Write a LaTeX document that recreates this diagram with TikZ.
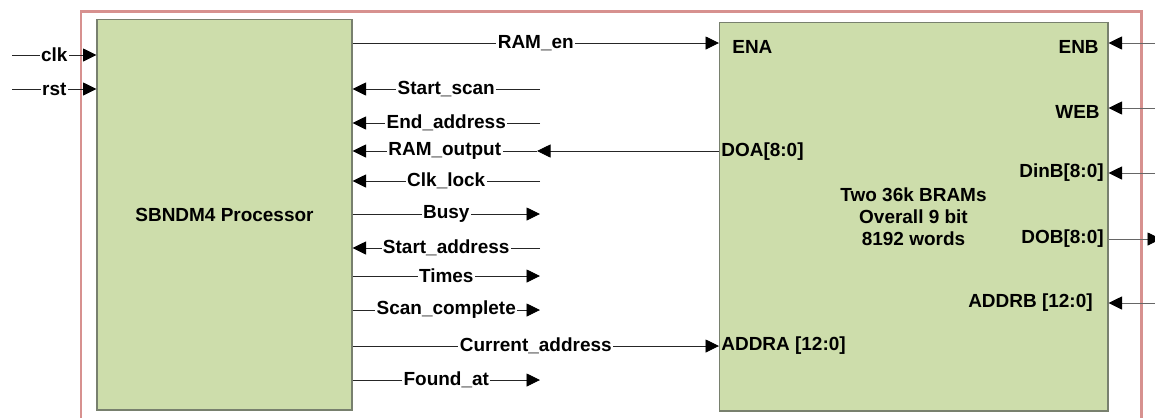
\documentclass[tikz,border=0pt]{standalone}
\usepackage{fontspec}
\setmainfont{Liberation Sans}
\usetikzlibrary{arrows.meta,positioning}
\definecolor{blockgreen}{RGB}{205,221,171}
\definecolor{blockedge}{RGB}{120,128,110}
\definecolor{framepink}{RGB}{215,145,143}
\tikzset{
 blk/.style={draw=blockedge,fill=blockgreen,line width=0.6pt,inner sep=0pt},
 sig/.style={draw=black!85,line width=0.5pt,-{Triangle[length=0.27cm,width=0.26cm,color=black]}},
 sig label/.style={fill=white,inner sep=0.8pt},
 port label/.style={inner sep=0pt}
}

\begin{document}
\begin{tikzpicture}[x=0.02cm,y=-0.02cm,font=\fontsize{10.8}{12.5}\selectfont\bfseries]
 \useasboundingbox (0,0) rectangle (1155,417);
 \clip (0,0) rectangle (1155,417);
 \draw[framepink,line width=1.7pt] (81,11) rectangle (1141,440);

 % the two blocks
 \node[blk,minimum width=5.1cm,minimum height=7.82cm] (proc) at (224.5,214.5) {SBNDM4 Processor};
 \node[blk,minimum width=7.78cm,minimum height=7.78cm,align=center] (bram) at (913.5,216.5)
   {Two 36k BRAMs\\Overall 9 bit\\8192 words};

 % ports of the BRAM
 \node[port label,anchor=west] (enalbl) at (732,47) {ENA};
 \node[port label,anchor=west] (doalbl) at (721,152) {DOA[8:0]};
 \node[port label,anchor=west] (addralbl) at (721,346) {ADDRA [12:0]};
 \node[port label,anchor=east] (enblbl) at (1099,47) {ENB};
 \node[port label,anchor=east] (weblbl) at (1100,112) {WEB};
 \node[port label,anchor=east] (dinblbl) at (1104,173) {DinB[8:0]};
 \node[port label,anchor=east] (doblbl) at (1104,239) {DOB[8:0]};
 \node[port label,anchor=east] (addrblbl) at (1093,303) {ADDRB [12:0]};

 \coordinate (ena) at (719,43);
 \coordinate (doa) at (719,151);
 \coordinate (addra) at (719,346);
 \coordinate (outmid) at (537,151);
 \coordinate (clk) at (12,55);
 \coordinate (rst) at (12,89);
 \coordinate (enb) at (1165,43);
 \coordinate (web) at (1165,108);
 \coordinate (dinb) at (1165,173);
 \coordinate (dob) at (1161,239);
 \coordinate (addrb) at (1165,303);

 % processor inputs from outside
 \draw[sig] (clk) -- node[sig label]{clk} (clk -| proc.west);
 \draw[sig] (rst) -- node[sig label]{rst} (rst -| proc.west);

 % processor <-> BRAM
 \draw[sig] (ena -| proc.east) -- node[sig label]{RAM\_en} (ena);
 \draw[sig] (doa) -- (outmid);
 \draw[sig] (outmid) -- node[sig label]{RAM\_output} (outmid -| proc.east);
 \draw[sig] (addra -| proc.east) -- node[sig label]{Current\_address} (addra);

 % short control signals
 \foreach \txt/\y in {Start\_scan/89,End\_address/123,Clk\_lock/181,Start\_address/248}{
   \coordinate (s\y) at (540,\y);
   \draw[sig] (s\y) -- node[sig label]{\txt} (s\y -| proc.east);
 }
 \foreach \txt/\y in {Busy/214,Times/276,Scan\_complete/310,Found\_at/380}{
   \coordinate (o\y) at (540,\y);
   \draw[sig] (o\y -| proc.east) -- node[sig label]{\txt} (o\y);
 }

 % port B side
 \foreach \p in {enb,web,dinb,addrb}
   \draw[sig,draw=black!60] (\p) -- (\p -| bram.east);
 \draw[sig,draw=black!60] (dob -| bram.east) -- (dob);
\end{tikzpicture}
\end{document}
